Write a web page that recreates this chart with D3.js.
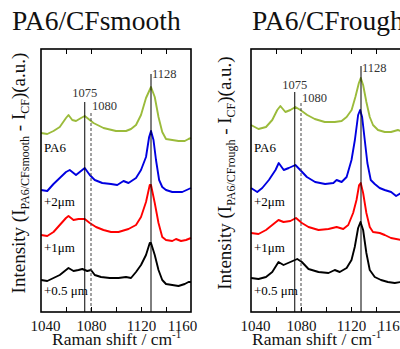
<!DOCTYPE html>
<html lang="en">
<head>
<meta charset="utf-8">
<title>PA6/CF Raman difference spectra</title>
<script src="https://d3js.org/d3.v7.min.js"></script>
<style type="text/css">
  body { margin: 0; background: #fff; }
  svg text { font-family: "Liberation Serif", "DejaVu Serif", serif; }
</style>
</head>
<body>
<script type="text/javascript">

var w = 400;
var h = 349;

// spectra as [Raman shift (cm-1), intensity (a.u., stacking offset included)]
var smoothPA6 = [[1040,17.9],[1045,17.8],[1050,18.1],[1055,18.5],[1060,19.4],[1062,19.7],[1065,19.2],[1068,19.1],[1072,19.4],[1075,19.6],[1078,19.3],[1082,18.9],[1090,18.4],[1100,18.1],[1108,18.1],[1112,18.3],[1116,18.7],[1120,19.7],[1124,21.4],[1128,22.5],[1131,21.5],[1134,19.5],[1137,18.0],[1140,17.3],[1145,17.2],[1150,17.1],[1155,17.1],[1158,17.3],[1160,17.4]];
var smooth2um = [[1040,12.2],[1045,12.1],[1050,12.8],[1055,13.4],[1060,14.0],[1063,14.2],[1068,13.7],[1071,14.0],[1075,14.4],[1079,13.7],[1083,13.2],[1089,12.9],[1096,12.8],[1101,12.7],[1106,13.1],[1110,12.9],[1116,13.4],[1120,14.2],[1124,15.5],[1126.5,17.5],[1128,18.1],[1130,17.2],[1132,15.2],[1134.5,13.2],[1137,12.5],[1140,12.2],[1145,12.0],[1153,12.0],[1160,12.4]];
var smooth1um = [[1040,7.7],[1045,7.6],[1050,8.0],[1055,8.7],[1060,9.4],[1062,9.6],[1066,9.2],[1070,9.3],[1075,9.3],[1079,8.9],[1084,8.5],[1090,8.2],[1096,8.0],[1102,8.0],[1110,8.3],[1116,8.7],[1120,9.5],[1124,11.0],[1127,12.7],[1128,12.7],[1131,10.9],[1134,8.9],[1137,7.5],[1140,7.2],[1145,7.1],[1148,7.3],[1152,7.1],[1156,7.2],[1160,7.4]];
var smooth05um = [[1040,3.2],[1045,3.1],[1050,3.4],[1055,3.7],[1060,4.2],[1062,4.4],[1066,4.1],[1070,4.2],[1073,4.3],[1077,4.1],[1080,4.2],[1083,3.7],[1088,3.5],[1095,3.4],[1102,3.4],[1108,3.5],[1112,3.4],[1116,4.0],[1120,4.7],[1124,5.7],[1127,6.9],[1128,6.9],[1131,5.7],[1134,4.2],[1137,3.2],[1140,2.8],[1145,2.7],[1150,2.6],[1155,2.8],[1158,3.0],[1160,3.0]];

var roughPA6 = [[1040,18.7],[1046,18.3],[1052,18.5],[1057,19.2],[1061,20.2],[1063.5,20.6],[1067.5,20.0],[1071.5,20.2],[1075.5,20.5],[1079.5,20.2],[1085,19.7],[1091,19.3],[1099,19.0],[1107,19.0],[1112.5,19.1],[1116.5,19.5],[1120.5,20.2],[1123.5,21.5],[1126.3,22.9],[1127.8,23.4],[1129.7,22.7],[1132.3,21.0],[1135,19.5],[1137.6,18.7],[1141.6,18.2],[1147,18.0],[1152,18.0],[1157.5,18.2],[1160,18.1]];
var rough2um = [[1040,12.4],[1045,12.0],[1049,12.4],[1054.3,13.2],[1059.6,14.2],[1062.2,14.9],[1066.2,14.2],[1070.2,14.4],[1075.5,14.7],[1079.4,14.2],[1084.7,13.5],[1091.3,13.0],[1099.3,12.8],[1105.9,12.9],[1108.5,13.2],[1112.5,13.0],[1116.5,13.5],[1120.4,15.2],[1123.1,17.2],[1125.7,19.7],[1127.3,20.2],[1128.9,19.5],[1131,17.2],[1133.1,14.9],[1135.8,13.2],[1139,12.8],[1142.9,12.4],[1146.9,12.2],[1152.1,12.0],[1156.1,11.6],[1160,11.9]];
var rough1um = [[1040,7.9],[1046,7.8],[1052,8.2],[1057,8.7],[1062,9.2],[1066,9.0],[1071.5,9.1],[1076,9.4],[1080.7,8.9],[1086,8.5],[1094,8.2],[1102,8.3],[1108.5,8.5],[1113.8,8.3],[1117.8,8.7],[1121.7,9.9],[1124.4,11.2],[1126.5,12.7],[1127.8,12.9],[1129.7,11.9],[1132.3,9.9],[1135,8.5],[1137.6,8.0],[1143,7.9],[1147,7.7],[1152,7.4],[1160,7.2]];
var rough05um = [[1040,3.4],[1046,3.3],[1052,3.5],[1057,4.0],[1062,5.0],[1066,4.7],[1071.5,5.0],[1077,5.3],[1080.7,5.0],[1086,4.3],[1094,4.0],[1102,3.9],[1107,4.2],[1111,4.0],[1116.5,4.4],[1120.4,5.2],[1123,6.5],[1125.7,8.4],[1127.6,9.0],[1129.7,8.2],[1132.3,5.9],[1135,4.2],[1139,3.5],[1144,3.2],[1149.5,3.0],[1155,2.9],[1160,3.0]];

var seriesLabels = ["PA6", "+2\u03bcm", "+1\u03bcm", "+0.5 \u03bcm"];
var seriesColors = ["#9bbb3b", "#0000e0", "#ff0000", "#000000"];
var peaks = [1075, 1080, 1128];
var xTickLabels = [1040, 1080, 1120, 1160];
var xTicksBottom = [1060, 1080, 1100, 1120, 1140];
var xTicksTop = [1060, 1080, 1120, 1140];

// layout for each panel
var panels = [
	{ title: "PA6/CFsmooth", sub: "PA6/CFsmooth", left: 41, titleX: 12, yLabelX: 25, xTitleX: 52,
	  series: [smoothPA6, smooth2um, smooth1um, smooth05um],
	  peakTop: [102, 113, 74], peakTextY: [97, 110, 78] },
	{ title: "PA6/CFrough", sub: "PA6/CFrough", left: 251, titleX: 252, yLabelX: 231, xTitleX: 252,
	  series: [roughPA6, rough2um, rough1um, rough05um],
	  peakTop: [92, 103, 66], peakTextY: [89, 102, 72] }
];
var labelY = [152, 206, 252, 295];

var plotTop = 49, plotBottom = 312;
var serif = "'Liberation Serif', 'DejaVu Serif', serif";

var svg = d3.select("body")
			.append("svg")
			.attr("width", w)
			.attr("height", h);

var y = d3.scaleLinear().domain([0, 26.3]).range([plotBottom, plotTop]);

panels.forEach(function(p) {
	var x = d3.scaleLinear().domain([1040, 1160]).range([p.left, p.left + 150]);
	var g = svg.append("g");

	//title
	g.append("text")
		.attr("x", p.titleX)
		.attr("y", 30)
		.style("font-family", serif)
		.style("font-size", "27.5px")
		.attr("fill", "#111")
		.text(p.title);

	//spectra
	var line = d3.line()
		.x(function(d) { return x(d[0]); })
		.y(function(d) { return y(d[1]); });

	g.selectAll("path.spec")
		.data(p.series)
		.enter()
		.append("path")
		.attr("class", "spec")
		.attr("d", line)
		.attr("fill", "none")
		.attr("stroke", function(d, i) { return seriesColors[i]; })
		.attr("stroke-width", 1.9)
		.attr("stroke-linejoin", "round");

	//series labels
	g.selectAll("text.lab")
		.data(seriesLabels)
		.enter()
		.append("text")
		.attr("class", "lab")
		.attr("x", p.left + 3)
		.attr("y", function(d, i) { return labelY[i]; })
		.style("font-family", serif)
		.style("font-size", "13px")
		.text(function(d) { return d; });

	//peak markers
	g.selectAll("line.peak")
		.data(peaks)
		.enter()
		.append("line")
		.attr("class", "peak")
		.attr("x1", function(d) { return x(d); })
		.attr("x2", function(d) { return x(d); })
		.attr("y1", function(d, i) { return p.peakTop[i]; })
		.attr("y2", plotBottom)
		.attr("stroke", function(d, i) { return i == 1 ? "#444" : "#000"; })
		.attr("stroke-width", 1)
		.attr("stroke-dasharray", function(d, i) { return i == 1 ? "3,2" : null; });

	g.selectAll("text.peak")
		.data(peaks)
		.enter()
		.append("text")
		.attr("class", "peak")
		.attr("x", function(d, i) { return i == 0 ? x(d) : x(d) + 1; })
		.attr("y", function(d, i) { return p.peakTextY[i]; })
		.attr("text-anchor", function(d, i) { return i == 0 ? "middle" : "start"; })
		.style("font-family", serif)
		.style("font-size", "12.5px")
		.attr("fill", "#333")
		.text(function(d) { return d; });

	//ticks, inward
	g.append("g")
		.attr("transform", "translate(0," + plotBottom + ")")
		.call(d3.axisBottom(x).tickValues(xTicksBottom).tickSizeInner(-5).tickSizeOuter(0).tickFormat(""))
		.call(function(a) { a.select(".domain").remove(); });
	g.append("g")
		.attr("transform", "translate(0," + plotTop + ")")
		.call(d3.axisTop(x).tickValues(xTicksTop).tickSizeInner(-5).tickSizeOuter(0).tickFormat(""))
		.call(function(a) { a.select(".domain").remove(); });

	//tick labels
	var ax = g.append("g")
		.attr("transform", "translate(0," + plotBottom + ")")
		.call(d3.axisBottom(x).tickValues(xTickLabels).tickSize(0).tickPadding(8.5).tickFormat(d3.format("d")));
	ax.select(".domain").remove();
	ax.selectAll("text")
		.style("font-family", serif)
		.style("font-size", "15px")
		.attr("fill", "#111")
		.attr("dx", function(d) { return d == 1040 ? 4 : (d == 1160 ? -9 : 0); });

	//frame
	g.append("rect")
		.attr("x", p.left)
		.attr("y", plotTop)
		.attr("width", 150)
		.attr("height", plotBottom - plotTop)
		.attr("fill", "none")
		.attr("stroke", "#000")
		.attr("stroke-width", 1.6);

	//x title
	var xt = g.append("text")
		.attr("x", p.xTitleX)
		.attr("y", 345)
		.style("font-family", serif)
		.style("font-size", "17.5px")
		.attr("fill", "#111")
		.text("Raman shift / cm");
	xt.append("tspan").attr("dy", -7).style("font-size", "11px").text("-1");

	//y title
	var yt = g.append("text")
		.attr("transform", "translate(" + p.yLabelX + ",173) rotate(-90)")
		.attr("text-anchor", "middle")
		.style("font-family", serif)
		.style("font-size", "19px")
		.attr("fill", "#111");
	yt.append("tspan").text("Intensity (I");
	yt.append("tspan").attr("dy", 4).style("font-size", "12px").text(p.sub);
	yt.append("tspan").attr("dy", -4).text(" - I");
	yt.append("tspan").attr("dy", 4).style("font-size", "12px").text("CF");
	yt.append("tspan").attr("dy", -4).text(")(a.u.)");
});

</script>
</body>
</html>
